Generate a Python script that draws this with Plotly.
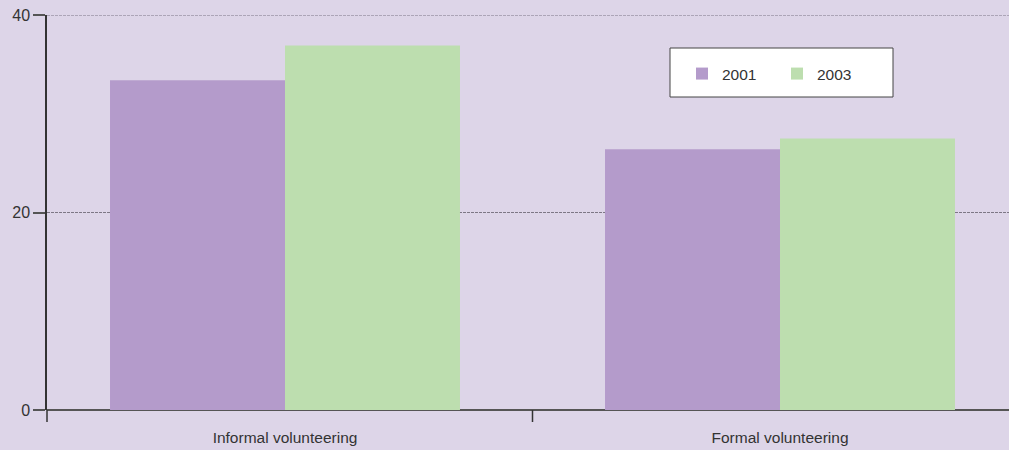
import plotly.graph_objects as go

categories = ["Informal volunteering", "Formal volunteering"]
series_names = ["2001", "2003"]
values_2001 = [33.4, 26.4]
values_2003 = [36.9, 27.5]
y_ticks = [0, 20, 40]

BG = "#DDD5E8"
PURPLE = "#B49BCB"
GREEN = "#BDDEAF"
AXIS = "#333333"
GRID = "#7d7785"
FONT = "Liberation Sans, Arial, sans-serif"

W, H = 1009, 450
ML, MR, MT, MB = 47, 0, 15, 40
pw = W - ML - MR
ph = H - MT - MB

x_pos = [0, 1]
fig = go.Figure()
fig.add_trace(go.Bar(x=x_pos, y=values_2001, name=series_names[0],
                     marker=dict(color=PURPLE, line=dict(width=0))))
fig.add_trace(go.Bar(x=x_pos, y=values_2003, name=series_names[1],
                     marker=dict(color=GREEN, line=dict(width=0))))

unit = 495.0
left = -(285 - ML) / unit
right = 1 + (W - 780) / unit

def px_x(p):
    return (p - ML) / pw

def px_y(p):
    return (H - MB - p) / ph

shapes = [
    dict(type="line", xref="paper", yref="y", x0=0, x1=1, y0=y_ticks[-1], y1=y_ticks[-1],
         line=dict(color=GRID, width=1, dash="3px,1px"), layer="below"),
    dict(type="rect", xref="paper", yref="paper",
         x0=px_x(670), x1=px_x(893), y0=px_y(97), y1=px_y(48),
         fillcolor="white", line=dict(color="#444444", width=1), layer="above"),
    dict(type="line", xref="paper", yref="paper", x0=0, x1=0,
         y0=0, y1=-12 / ph, line=dict(color=AXIS, width=1.5)),
    dict(type="line", xref="x", yref="paper", x0=0.5, x1=0.5,
         y0=0, y1=-12 / ph, line=dict(color=AXIS, width=1.5)),
]

fig.update_layout(
    width=W, height=H,
    margin=dict(l=ML, r=MR, t=MT, b=MB),
    paper_bgcolor=BG, plot_bgcolor=BG,
    barmode="group", bargap=0.293, bargroupgap=0,
    font=dict(family=FONT, color=AXIS, size=15),
    showlegend=True,
    legend=dict(orientation="h", x=px_x(682), y=px_y(57), xanchor="left", yanchor="top",
                bgcolor="rgba(0,0,0,0)", borderwidth=0, entrywidth=50,
                font=dict(size=15.5, color=AXIS), traceorder="normal"),
    shapes=shapes,
    xaxis=dict(range=[left, right], tickmode="array", tickvals=x_pos, ticktext=categories,
               showgrid=False, zeroline=False, showline=False,
               ticks="outside", ticklen=12, tickcolor="rgba(0,0,0,0)",
               tickfont=dict(size=15.5, color=AXIS), ticklabelstandoff=1),
    yaxis=dict(range=[0, 40], tickmode="array", tickvals=y_ticks,
               showgrid=True, gridcolor=GRID, gridwidth=1, griddash="3px,1px",
               zeroline=True, zerolinecolor="#555555", zerolinewidth=1.5,
               showline=True, linecolor=AXIS, linewidth=1.5,
               ticks="outside", ticklen=12, tickcolor="#555555", tickwidth=1.5,
               tickfont=dict(size=16, color=AXIS)),
)

fig.write_html("out.html", config={"displayModeBar": False},
               post_script="document.body.style.margin='0';document.body.style.padding='0';")
